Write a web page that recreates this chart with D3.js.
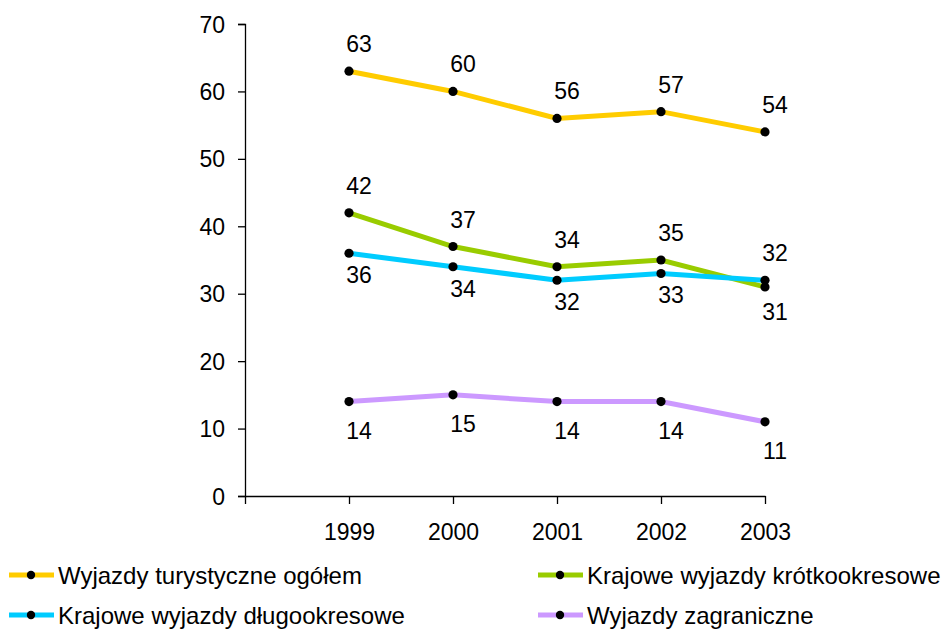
<!DOCTYPE html>
<html lang="pl">
<head>
<meta charset="UTF-8">
<title>Wyjazdy</title>
<script src="https://cdn.jsdelivr.net/npm/d3@7"></script>
<style>
  body { margin: 0; background: #fff; }
  svg text { font-family: "Liberation Sans", Arial, sans-serif; fill: #000; }
</style>
</head>
<body>
<svg id="chart" width="946" height="631"></svg>
<script>
// data
var years = ["1999", "2000", "2001", "2002", "2003"];
var seriesNames = ["Wyjazdy turystyczne ogółem", "Krajowe wyjazdy krótkookresowe",
                   "Krajowe wyjazdy długookresowe", "Wyjazdy zagraniczne"];
var ogolem = [63, 60, 56, 57, 54];
var krotko = [42, 37, 34, 35, 31];
var dlugo = [36, 34, 32, 33, 32];
var zagr = [14, 15, 14, 14, 11];
var yTicks = [0, 10, 20, 30, 40, 50, 60, 70];

var colors = ["#FFCC00", "#99CC00", "#00CCFF", "#CC99FF"];
// label placement per point: -1 above, 1 below
var labelPos = [
  [-1, -1, -1, -1, -1],
  [-1, -1, -1, -1, 1],
  [1, 1, 1, 1, -1],
  [1, 1, 1, 1, 1]
];
// how far below the point the label baseline goes, per series
var belowOffset = [30, 33, 30, 37];
var values = [ogolem, krotko, dlugo, zagr];

var svg = d3.select("#chart");

// first slot on the axis is empty, so the years sit on ticks 2..6
var x = d3.scalePoint().domain([""].concat(years)).range([245, 765]);
var y = d3.scaleLinear().domain([0, 70]).range([496, 24]);

// y axis
var yAxis = svg.append("g")
  .attr("transform", "translate(245,0)")
  .call(d3.axisLeft(y).tickValues(yTicks).tickSize(7).tickPadding(13));
yAxis.select(".domain").attr("stroke", "#000").attr("stroke-width", 1.3);
yAxis.selectAll(".tick line").attr("stroke", "#000").attr("stroke-width", 1.3);
yAxis.selectAll("text").style("font-size", "23px").attr("dy", "0.35em");

// x axis
var xAxis = svg.append("g")
  .attr("transform", "translate(0,496)")
  .call(d3.axisBottom(x).tickSize(8).tickSizeOuter(0).tickPadding(20));
xAxis.select(".domain").attr("stroke", "#000").attr("stroke-width", 1.3);
xAxis.selectAll(".tick line").attr("stroke", "#000").attr("stroke-width", 1.3);
xAxis.selectAll("text").style("font-size", "23px");

var line = d3.line()
  .x(function(d, i) { return x(years[i]); })
  .y(function(d) { return y(d); });

values.forEach(function(vals, s) {
  svg.append("path")
    .datum(vals)
    .attr("d", line)
    .attr("fill", "none")
    .attr("stroke", colors[s])
    .attr("stroke-width", 5);
});

values.forEach(function(vals, s) {
  var g = svg.append("g");
  g.selectAll("circle")
    .data(vals)
    .enter().append("circle")
    .attr("cx", function(d, i) { return x(years[i]); })
    .attr("cy", function(d) { return y(d); })
    .attr("r", 4.6)
    .attr("fill", "#000");
  g.selectAll("text")
    .data(vals)
    .enter().append("text")
    .attr("x", function(d, i) { return x(years[i]) + 10; })
    .attr("y", function(d, i) { return y(d) + (labelPos[s][i] < 0 ? -19 : belowOffset[s]); })
    .attr("text-anchor", "middle")
    .style("font-size", "23px")
    .text(function(d) { return d; });
});

// legend
var legendX = [9, 538];
var legendY = [575, 615];
seriesNames.forEach(function(name, s) {
  var lx = legendX[s % 2], ly = legendY[Math.floor(s / 2)];
  var g = svg.append("g").attr("transform", "translate(" + lx + "," + ly + ")");
  g.append("line").attr("x1", 0).attr("x2", 45).attr("y1", 0).attr("y2", 0)
    .attr("stroke", colors[s]).attr("stroke-width", 5);
  g.append("circle").attr("cx", 22).attr("cy", 0).attr("r", 4.2).attr("fill", "#000");
  g.append("text").attr("x", 49).attr("y", 0).attr("dy", "0.36em")
    .style("font-size", "24px").text(name);
});
</script>
</body>
</html>
